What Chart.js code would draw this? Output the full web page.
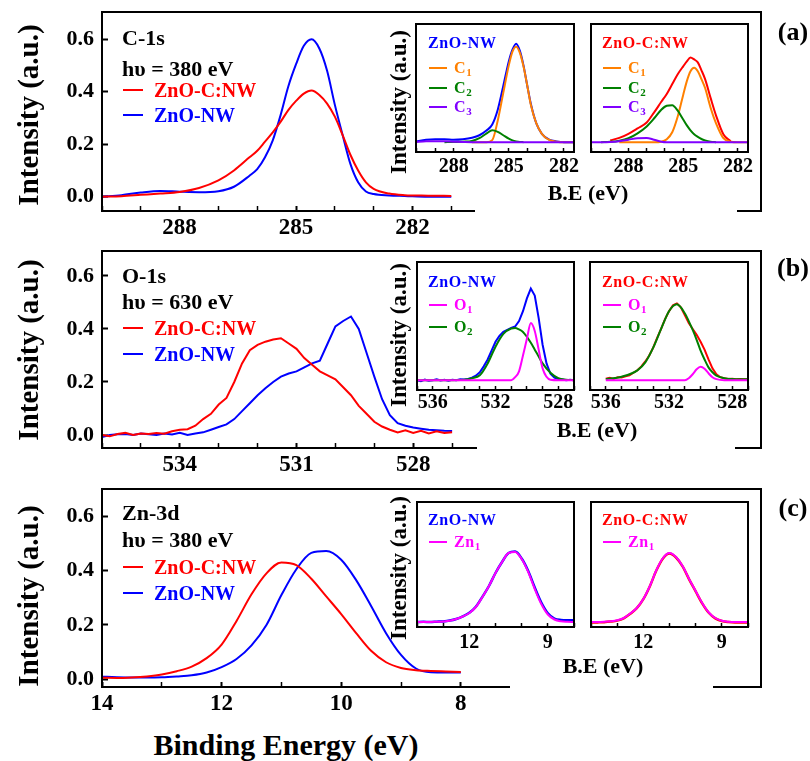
<!DOCTYPE html>
<html>
<head>
<meta charset="utf-8">
<title>XPS spectra</title>
<script src="https://cdn.jsdelivr.net/npm/chart.js@4.4.0/dist/chart.umd.min.js"></script>
<style>
  body { margin: 0; background: #fff; }
  #fig { position: relative; width: 810px; height: 761px; overflow: hidden;
         font-family: 'Liberation Serif', 'Times New Roman', serif; color: #000; }
  #fig canvas { position: absolute; }
  .t { position: absolute; white-space: nowrap; line-height: 1; font-weight: bold; }
  .c { transform: translate(-50%, -50%); }
  .l { transform: translateY(-50%); }
  .rot { transform: translate(-50%, -50%) rotate(-90deg); }
  .cover { position: absolute; background: #fff; }
  .key { position: absolute; height: 2px; }
  .ann { font-size: 22px; }
  .lg { font-size: 20px; }
  .ilg { font-size: 16px; letter-spacing: 0.6px; }
  .ilg sub { font-size: 11px; vertical-align: -3px; line-height: 0; }
</style>
</head>
<body>
<div id="fig">
  <canvas id="mainC"></canvas>
  <canvas id="mainO"></canvas>
  <canvas id="mainZn"></canvas>

  <div class="cover" style="left:475px;top:14px;width:262px;height:202px"></div>
  <div class="cover" style="left:477px;top:253px;width:258px;height:199px"></div>
  <div class="cover" style="left:510px;top:491px;width:203px;height:201px"></div>

  <canvas id="insC1"></canvas>
  <canvas id="insC2"></canvas>
  <canvas id="insO1"></canvas>
  <canvas id="insO2"></canvas>
  <canvas id="insZn1"></canvas>
  <canvas id="insZn2"></canvas>

  <!-- axis titles -->
  <div class="t rot" style="left:28px;top:115px;font-size:29px">Intensity (a.u.)</div>
  <div class="t rot" style="left:28px;top:350px;font-size:29px">Intensity (a.u.)</div>
  <div class="t rot" style="left:28px;top:596px;font-size:29px">Intensity (a.u.)</div>
  <div class="t c" style="left:286px;top:745px;font-size:30px">Binding Energy (eV)</div>

  <div class="t rot" style="left:398px;top:102px;font-size:23px">Intensity (a.u.)</div>
  <div class="t rot" style="left:398px;top:335px;font-size:23px">Intensity (a.u.)</div>
  <div class="t rot" style="left:398px;top:568px;font-size:23px">Intensity (a.u.)</div>
  <div class="t c" style="left:588px;top:193px;font-size:22px">B.E (eV)</div>
  <div class="t c" style="left:597px;top:430px;font-size:22px">B.E (eV)</div>
  <div class="t c" style="left:603px;top:666px;font-size:22px">B.E (eV)</div>

  <div class="t c" style="left:793px;top:32px;font-size:26px">(a)</div>
  <div class="t c" style="left:793px;top:268px;font-size:26px">(b)</div>
  <div class="t c" style="left:793px;top:508px;font-size:26px">(c)</div>

  <!-- panel (a) notes and legend -->
  <div class="t l ann" style="left:122px;top:38px">C-1s</div>
  <div class="t l ann" style="left:122px;top:69px">hυ = 380 eV</div>
  <div class="key" style="left:123px;top:89px;width:20px;background:#ff0000"></div>
  <div class="t l lg" style="left:154px;top:90px;color:#ff0000">ZnO-C:NW</div>
  <div class="key" style="left:123px;top:114px;width:20px;background:#0000ff"></div>
  <div class="t l lg" style="left:154px;top:115px;color:#0000ff">ZnO-NW</div>

  <!-- panel (b) -->
  <div class="t l ann" style="left:122px;top:276px">O-1s</div>
  <div class="t l ann" style="left:122px;top:302px">hυ = 630 eV</div>
  <div class="key" style="left:123px;top:327px;width:20px;background:#ff0000"></div>
  <div class="t l lg" style="left:154px;top:328px;color:#ff0000">ZnO-C:NW</div>
  <div class="key" style="left:123px;top:353px;width:20px;background:#0000ff"></div>
  <div class="t l lg" style="left:154px;top:354px;color:#0000ff">ZnO-NW</div>

  <!-- panel (c) -->
  <div class="t l ann" style="left:122px;top:513px">Zn-3d</div>
  <div class="t l ann" style="left:122px;top:540px">hυ = 380 eV</div>
  <div class="key" style="left:123px;top:566px;width:20px;background:#ff0000"></div>
  <div class="t l lg" style="left:154px;top:567px;color:#ff0000">ZnO-C:NW</div>
  <div class="key" style="left:123px;top:592px;width:20px;background:#0000ff"></div>
  <div class="t l lg" style="left:154px;top:593px;color:#0000ff">ZnO-NW</div>

  <!-- inset legends, C-1s -->
  <div class="t l ilg" style="left:428px;top:43px;color:#0000ff">ZnO-NW</div>
  <div class="key" style="left:429px;top:67px;width:18px;background:#ff8000"></div>
  <div class="t l ilg" style="left:454px;top:68px;color:#ff8000">C<sub>1</sub></div>
  <div class="key" style="left:429px;top:87px;width:18px;background:#008000"></div>
  <div class="t l ilg" style="left:454px;top:88px;color:#008000">C<sub>2</sub></div>
  <div class="key" style="left:429px;top:106px;width:18px;background:#8000ff"></div>
  <div class="t l ilg" style="left:454px;top:107px;color:#8000ff">C<sub>3</sub></div>

  <div class="t l ilg" style="left:602px;top:43px;color:#ff0000">ZnO-C:NW</div>
  <div class="key" style="left:603px;top:67px;width:18px;background:#ff8000"></div>
  <div class="t l ilg" style="left:628px;top:68px;color:#ff8000">C<sub>1</sub></div>
  <div class="key" style="left:603px;top:87px;width:18px;background:#008000"></div>
  <div class="t l ilg" style="left:628px;top:88px;color:#008000">C<sub>2</sub></div>
  <div class="key" style="left:603px;top:106px;width:18px;background:#8000ff"></div>
  <div class="t l ilg" style="left:628px;top:107px;color:#8000ff">C<sub>3</sub></div>

  <!-- inset legends, O-1s -->
  <div class="t l ilg" style="left:428px;top:282px;color:#0000ff">ZnO-NW</div>
  <div class="key" style="left:429px;top:304px;width:18px;background:#ff00ff"></div>
  <div class="t l ilg" style="left:454px;top:305px;color:#ff00ff">O<sub>1</sub></div>
  <div class="key" style="left:429px;top:326px;width:18px;background:#008000"></div>
  <div class="t l ilg" style="left:454px;top:327px;color:#008000">O<sub>2</sub></div>

  <div class="t l ilg" style="left:602px;top:282px;color:#ff0000">ZnO-C:NW</div>
  <div class="key" style="left:603px;top:304px;width:18px;background:#ff00ff"></div>
  <div class="t l ilg" style="left:628px;top:305px;color:#ff00ff">O<sub>1</sub></div>
  <div class="key" style="left:603px;top:326px;width:18px;background:#008000"></div>
  <div class="t l ilg" style="left:628px;top:327px;color:#008000">O<sub>2</sub></div>

  <!-- inset legends, Zn-3d -->
  <div class="t l ilg" style="left:428px;top:520px;color:#0000ff">ZnO-NW</div>
  <div class="key" style="left:429px;top:541px;width:18px;background:#ff00ff"></div>
  <div class="t l ilg" style="left:454px;top:542px;color:#ff00ff">Zn<sub>1</sub></div>

  <div class="t l ilg" style="left:602px;top:520px;color:#ff0000">ZnO-C:NW</div>
  <div class="key" style="left:603px;top:541px;width:18px;background:#ff00ff"></div>
  <div class="t l ilg" style="left:628px;top:542px;color:#ff00ff">Zn<sub>1</sub></div>
</div>

<script>
// ---- C-1s survey (eV, a.u.)
const eC1s = [290.0, 289.5, 289.0, 288.5, 288.0, 287.5, 287.0, 286.6, 286.2, 286.0, 285.8, 285.6, 285.4, 285.2, 285.0,
              284.8, 284.6, 284.4, 284.2, 284.0, 283.8, 283.6, 283.4, 283.2, 283.0, 282.6, 282.2, 281.6, 281.0];
const c1sNW  = [0.0, 0.006, 0.016, 0.022, 0.019, 0.017, 0.021, 0.038, 0.08, 0.105, 0.15, 0.215, 0.31, 0.42, 0.505,
                0.575, 0.6, 0.565, 0.48, 0.35, 0.235, 0.125, 0.055, 0.02, 0.01, 0.005, 0.003, 0.0, 0.0];
const c1sCNW = [0.0, 0.002, 0.007, 0.012, 0.018, 0.033, 0.062, 0.1, 0.15, 0.175, 0.21, 0.245, 0.285, 0.33, 0.365,
                0.393, 0.405, 0.388, 0.355, 0.305, 0.235, 0.16, 0.1, 0.055, 0.03, 0.012, 0.006, 0.004, 0.003];

// C-1s peak fits
const eCfit = [290.1, 289.5, 289.0, 288.5, 288.0, 287.5, 287.0, 286.6, 286.2, 285.9, 285.6, 285.3, 285.0,
               284.8, 284.6, 284.4, 284.2, 284.0, 283.8, 283.5, 283.2, 282.8, 282.4, 282.0, 281.5];
const fitNW_data = [0.005, 0.025, 0.03, 0.03, 0.025, 0.03, 0.045, 0.07, 0.12, 0.18, 0.33, 0.57, 0.82,
                    0.94, 1.0, 0.93, 0.78, 0.58, 0.39, 0.19, 0.085, 0.025, 0.008, 0.0, 0.0];
const fitNW_C1 = [null, null, null, null, null, null, 0, 0, 0, 0.02, 0.22, 0.5, 0.78,
                  0.92, 0.97, 0.91, 0.77, 0.58, 0.38, 0.19, 0.085, 0.022, 0.005, 0.0, 0.0];
const fitNW_C2 = [null, null, null, 0, 0.002, 0.005, 0.012, 0.04, 0.09, 0.12, 0.105, 0.07, 0.035,
                  0.018, 0.008, 0.002, 0.0, null, null, null, null, null, null, null, null];
const fitNW_C3 = [0.0, 0.008, 0.01, 0.008, 0.005, 0.002, 0.0, 0, 0, 0, 0, 0, 0,
                  0, 0, 0, 0, 0, 0, 0, 0, 0, 0, 0, 0];
const fitCNW_data = [null, null, 0.018, 0.043, 0.085, 0.14, 0.2, 0.3, 0.41, 0.49, 0.59, 0.69, 0.77,
                     0.82, 0.86, 0.84, 0.81, 0.73, 0.64, 0.45, 0.27, 0.08, 0.008, null, null];
const fitCNW_C1 = [null, null, null, 0, 0, 0, 0, 0, 0.005, 0.03, 0.1, 0.26, 0.48,
                   0.62, 0.72, 0.755, 0.72, 0.64, 0.55, 0.35, 0.19, 0.04, 0.005, 0.0, 0.0];
const fitCNW_C2 = [null, 0.0, 0.003, 0.015, 0.04, 0.09, 0.16, 0.24, 0.33, 0.37, 0.375, 0.32, 0.23,
                   0.17, 0.12, 0.08, 0.054, 0.032, 0.018, 0.005, 0.0, null, null, null, null];
const fitCNW_C3 = [0, 0, 0.002, 0.01, 0.025, 0.04, 0.042, 0.025, 0.005, 0, 0, 0, 0,
                   0, 0, 0, 0, 0, 0, 0, 0, 0, 0, 0, 0];

// ---- O-1s survey
const eO1s = [536.0, 535.8, 535.6, 535.4, 535.2, 535.0, 534.8, 534.6, 534.4, 534.2, 534.0, 533.8, 533.6, 533.4, 533.2,
              533.0, 532.8, 532.6, 532.4, 532.2, 532.0, 531.8, 531.6, 531.4, 531.2, 531.0, 530.8, 530.6, 530.4, 530.2,
              530.0, 529.8, 529.6, 529.4, 529.2, 529.0, 528.8, 528.6, 528.4, 528.2, 528.0, 527.8, 527.6, 527.4, 527.2, 527.0];
const o1sCNW = [0.0, -0.005, 0.004, 0.008, 0.0, 0.006, 0.004, 0.008, 0.005, 0.014, 0.02, 0.022, 0.035, 0.06, 0.08,
                0.115, 0.14, 0.2, 0.27, 0.32, 0.34, 0.352, 0.36, 0.365, 0.345, 0.325, 0.29, 0.265, 0.24, 0.225,
                0.21, 0.18, 0.15, 0.11, 0.08, 0.05, 0.032, 0.02, 0.01, 0.018, 0.008, 0.016, 0.006, 0.014, 0.008, 0.01];
const o1sNW  = [-0.008, 0.0, 0.003, 0.004, 0.0, 0.006, 0.003, 0.0, 0.006, 0.002, 0.008, 0.0, 0.006, 0.01, 0.02,
                0.03, 0.04, 0.06, 0.09, 0.12, 0.15, 0.176, 0.2, 0.22, 0.232, 0.24, 0.255, 0.27, 0.28, 0.345,
                0.41, 0.43, 0.447, 0.40, 0.31, 0.22, 0.135, 0.075, 0.045, 0.035, 0.028, 0.024, 0.02, 0.018, 0.016, 0.015];

// O-1s peak fits
const eOdata = [537.0, 536.75, 536.5, 536.25, 536.0, 535.75, 535.5, 535.25, 535.0, 534.75, 534.5, 534.25, 534.0, 533.75,
                533.5, 533.25, 533.0, 532.75, 532.5, 532.25, 532.0, 531.75, 531.5, 531.25, 531.0, 530.75, 530.5, 530.25,
                530.0, 529.75, 529.5, 529.25, 529.0, 528.75, 528.5, 528.25, 528.0, 527.75, 527.5, 527.25, 527.0];
const fitO_NW_data = [0.0, -0.01, 0.005, -0.005, 0.0, 0.008, -0.004, 0.004, -0.006, 0.005, 0.0, 0.01, 0.006, 0.012,
                      0.025, 0.045, 0.08, 0.14, 0.21, 0.3, 0.39, 0.45, 0.49, 0.51, 0.53, 0.545, 0.6, 0.7,
                      0.83, 0.93, 0.86, 0.63, 0.36, 0.17, 0.065, 0.025, 0.012, 0.006, 0.0, 0.004, 0.0];
const fitO_CNW_data = [null, null, null, null, 0.015, 0.025, 0.012, 0.03, 0.028, 0.04, 0.05, 0.075, 0.1, 0.14,
                       0.19, 0.25, 0.33, 0.43, 0.52, 0.62, 0.7, 0.76, 0.78, 0.74, 0.66, 0.58, 0.52, 0.46,
                       0.39, 0.31, 0.21, 0.12, 0.06, 0.03, 0.02, 0.012, 0.015, 0.01, 0.012, 0.008, 0.01];
const eOfit = [537, 536, 535, 534, 533.5, 533, 532.5, 532, 531.5, 531, 530.75, 530.5, 530.25, 530,
               529.75, 529.5, 529.25, 529, 528.5, 528, 527.5, 527];
const fitO_NW_O1 = [0, 0, 0, 0, 0, 0, 0, 0, 0, 0.0, 0.03, 0.09, 0.25, 0.42, 0.58, 0.5, 0.31, 0.12, 0.005, 0, 0, 0];
const fitO_NW_O2 = [0, 0, 0.0, 0.005, 0.02, 0.05, 0.17, 0.34, 0.47, 0.525, 0.53, 0.515, 0.49, 0.44,
                    0.38, 0.31, 0.24, 0.17, 0.075, 0.02, 0.005, 0];
const fitO_CNW_O1 = [null, 0, 0, 0, 0, 0, 0, 0, 0, 0.0, 0.02, 0.06, 0.11, 0.135, 0.115, 0.07, 0.03, 0.01, 0, 0, 0, 0];
const fitO_CNW_O2 = [null, 0.01, 0.035, 0.1, 0.18, 0.33, 0.52, 0.7, 0.77, 0.68, 0.6, 0.51, 0.41, 0.3,
                     0.21, 0.13, 0.08, 0.045, 0.02, 0.012, 0.01, 0.01];

// ---- Zn-3d survey and fits
const eZn = [14.0, 13.75, 13.5, 13.25, 13.0, 12.75, 12.5, 12.25, 12.0, 11.75, 11.5, 11.25, 11.0,
             10.75, 10.5, 10.25, 10.0, 9.75, 9.5, 9.25, 9.0, 8.75, 8.5, 8.25, 8.0];
const znCNW = [0.006, 0.005, 0.007, 0.011, 0.018, 0.03, 0.047, 0.078, 0.128, 0.215, 0.313, 0.39, 0.43,
               0.42, 0.37, 0.305, 0.24, 0.17, 0.105, 0.063, 0.042, 0.034, 0.031, 0.029, 0.027];
const znNW  = [0.01, 0.008, 0.007, 0.007, 0.008, 0.011, 0.015, 0.025, 0.045, 0.075, 0.125, 0.2, 0.31,
               0.405, 0.465, 0.472, 0.44, 0.365, 0.27, 0.17, 0.09, 0.04, 0.026, 0.025, 0.025];
const fitZn_NW_data = [0.0, 0.002, 0.0, 0.003, 0.006, 0.014, 0.03, 0.056, 0.092, 0.152, 0.252, 0.36, 0.49,
                       0.6, 0.69, 0.705, 0.635, 0.51, 0.345, 0.195, 0.088, 0.035, 0.02, 0.017, 0.017];
const fitZn_NW_Zn1 = [0, 0, 0, 0.002, 0.005, 0.012, 0.03, 0.055, 0.09, 0.15, 0.25, 0.36, 0.49,
                      0.6, 0.69, 0.7, 0.63, 0.5, 0.33, 0.18, 0.075, 0.025, 0.007, 0.002, 0];
const fitZn_CNW_data = [-0.005, -0.004, -0.002, 0.004, 0.014, 0.037, 0.082, 0.138, 0.228, 0.358, 0.517, 0.636, 0.685,
                        0.645, 0.556, 0.427, 0.306, 0.186, 0.092, 0.036, 0.01, 0.0, -0.004, -0.004, -0.004];
const fitZn_CNW_Zn1 = [0.0, 0.0, 0.002, 0.007, 0.017, 0.04, 0.085, 0.14, 0.23, 0.36, 0.52, 0.64, 0.69,
                       0.65, 0.56, 0.43, 0.31, 0.19, 0.095, 0.04, 0.013, 0.003, 0.0, 0.0, 0.0];

const BLUE = '#0000ff', RED = '#ff0000', ORANGE = '#ff8000', GREEN = '#008000', VIOLET = '#8000ff', MAGENTA = '#ff00ff';
const W = 810;

Chart.defaults.font.family = "'Liberation Serif', 'Times New Roman', serif";
Chart.defaults.font.weight = 'bold';
Chart.defaults.color = '#000';

// black box around every plot area
Chart.register({
  id: 'frame',
  afterDraw(chart, args, opts) {
    const { ctx, chartArea: a } = chart;
    ctx.save();
    ctx.strokeStyle = '#000';
    ctx.lineWidth = opts.width || 2;
    ctx.strokeRect(a.left, a.top, a.right - a.left, a.bottom - a.top);
    ctx.restore();
  }
});

function toDataset(s) {
  return {
    data: s.x.map((x, i) => ({ x: x, y: s.y[i] })),
    borderColor: s.color,
    borderWidth: s.width || 2,
    pointRadius: 0,
    fill: false,
    spanGaps: false,
    tension: s.smooth ? 0.4 : 0,
    cubicInterpolationMode: s.smooth ? 'monotone' : 'default'
  };
}

const onTick = (lo, hi) => ctx =>
  (ctx.tick && ctx.tick.value >= lo - 1e-6 && ctx.tick.value <= hi + 1e-6) ? '#000' : 'rgba(0,0,0,0)';

function drawMain(id, box, xRange, yRange, tickSpan, labels, series) {
  const cv = document.getElementById(id);
  const padTop = 30, axisH = 36;
  cv.width = W;
  cv.height = box.b - box.t + padTop + axisH;
  cv.style.left = '0px';
  cv.style.top = (box.t - padTop) + 'px';
  new Chart(cv, {
    type: 'line',
    data: { datasets: series.map(toDataset) },
    options: {
      responsive: false, animation: false, devicePixelRatio: 1, events: [],
      layout: { padding: { left: 0, right: W - box.r, top: padTop, bottom: 0 } },
      plugins: { legend: { display: false }, tooltip: { enabled: false }, frame: { width: 2 } },
      scales: {
        x: {
          type: 'linear', reverse: true, min: xRange[0], max: xRange[1],
          afterFit: s => { s.height = axisH; },
          border: { display: false },
          grid: {
            drawOnChartArea: false, tickLength: -5,
            tickWidth: ctx => (ctx.tick && labels.includes(ctx.tick.value)) ? 2 : 1.5,
            tickColor: onTick(tickSpan[0], tickSpan[1])
          },
          ticks: {
            stepSize: 1, autoSkip: false, maxRotation: 0, includeBounds: false, padding: 8,
            color: '#000', font: { size: 23, weight: 'bold' },
            callback: v => labels.includes(v) ? String(v) : ''
          }
        },
        y: {
          min: yRange[0], max: yRange[1],
          afterFit: s => { s.width = box.l; },
          border: { display: false },
          grid: { drawOnChartArea: false, tickLength: -6, tickWidth: 2, tickColor: '#000' },
          ticks: {
            stepSize: 0.2, includeBounds: false, padding: 14,
            color: '#000', font: { size: 22, weight: 'bold' },
            callback: v => Math.abs(v) < 1e-9 ? '0.0' : v.toFixed(1)
          }
        }
      }
    }
  });
}

function drawInset(id, box, xRange, yRange, labels, labelPad, series) {
  const cv = document.getElementById(id);
  const side = 22, top = 4, axisH = 30;
  cv.width = box.r - box.l + 2 * side;
  cv.height = box.b - box.t + top + axisH;
  cv.style.left = (box.l - side) + 'px';
  cv.style.top = (box.t - top) + 'px';
  new Chart(cv, {
    type: 'line',
    data: { datasets: series.map(toDataset) },
    options: {
      responsive: false, animation: false, devicePixelRatio: 1, events: [],
      layout: { padding: { left: side, right: side, top: top, bottom: 0 } },
      plugins: { legend: { display: false }, tooltip: { enabled: false }, frame: { width: 2 } },
      scales: {
        x: {
          type: 'linear', reverse: true, min: xRange[0], max: xRange[1],
          afterFit: s => { s.height = axisH; },
          border: { display: false },
          grid: {
            drawOnChartArea: false, tickLength: -4, tickWidth: 1.5,
            tickColor: onTick(Math.ceil(xRange[0]), Math.floor(xRange[1]))
          },
          ticks: {
            stepSize: 1, autoSkip: false, maxRotation: 0, includeBounds: false, padding: labelPad,
            color: '#000', font: { size: 20, weight: 'bold' },
            callback: v => labels.includes(v) ? String(v) : ''
          }
        },
        y: { display: false, min: yRange[0], max: yRange[1] }
      }
    }
  });
}

// main panels
drawMain('mainC', { l: 102, r: 761, t: 12, b: 211 }, [273.02, 290], [-0.0545, 0.704], [281, 290], [288, 285, 282], [
  { x: eC1s, y: c1sCNW, color: RED, smooth: true },
  { x: eC1s, y: c1sNW, color: BLUE, smooth: true }
]);
drawMain('mainO', { l: 102, r: 761, t: 251, b: 448 }, [519.06, 536], [-0.049, 0.694], [527, 536], [534, 531, 528], [
  { x: eO1s, y: o1sCNW, color: RED },
  { x: eO1s, y: o1sNW, color: BLUE }
]);
drawMain('mainZn', { l: 102, r: 761, t: 489, b: 687 }, [2.98, 14], [-0.028, 0.70], [8, 14], [14, 12, 10, 8], [
  { x: eZn, y: znCNW, color: RED, smooth: true },
  { x: eZn, y: znNW, color: BLUE, smooth: true }
]);

// fitted insets (first dataset is drawn on top)
drawInset('insC1', { l: 416, r: 574, t: 24, b: 152 }, [281.45, 290.05], [-0.1, 1.2], [288, 285, 282], 7, [
  { x: eCfit, y: fitNW_C3, color: VIOLET, smooth: true },
  { x: eCfit, y: fitNW_C2, color: GREEN, smooth: true },
  { x: eCfit, y: fitNW_C1, color: ORANGE, smooth: true },
  { x: eCfit, y: fitNW_data, color: BLUE, smooth: true }
]);
drawInset('insC2', { l: 591, r: 748, t: 24, b: 152 }, [281.45, 290.05], [-0.1, 1.2], [288, 285, 282], 7, [
  { x: eCfit, y: fitCNW_C3, color: VIOLET, smooth: true },
  { x: eCfit, y: fitCNW_C2, color: GREEN, smooth: true },
  { x: eCfit, y: fitCNW_C1, color: ORANGE, smooth: true },
  { x: eCfit, y: fitCNW_data, color: RED, smooth: true }
]);
drawInset('insO1', { l: 417, r: 574, t: 262, b: 390 }, [527, 537], [-0.1, 1.2], [536, 532, 528], 5, [
  { x: eOfit, y: fitO_NW_O1, color: MAGENTA, smooth: true },
  { x: eOfit, y: fitO_NW_O2, color: GREEN, smooth: true },
  { x: eOdata, y: fitO_NW_data, color: BLUE }
]);
drawInset('insO2', { l: 590, r: 748, t: 262, b: 390 }, [527, 537], [-0.1, 1.2], [536, 532, 528], 5, [
  { x: eOfit, y: fitO_CNW_O1, color: MAGENTA, smooth: true },
  { x: eOfit, y: fitO_CNW_O2, color: GREEN, smooth: true },
  { x: eOdata, y: fitO_CNW_data, color: RED }
]);
drawInset('insZn1', { l: 417, r: 574, t: 502, b: 627 }, [8, 14], [-0.05, 1.2], [12, 9], 8, [
  { x: eZn, y: fitZn_NW_Zn1, color: MAGENTA, smooth: true },
  { x: eZn, y: fitZn_NW_data, color: BLUE, smooth: true, width: 2.5 }
]);
drawInset('insZn2', { l: 591, r: 748, t: 502, b: 627 }, [8, 14], [-0.05, 1.2], [12, 9], 8, [
  { x: eZn, y: fitZn_CNW_Zn1, color: MAGENTA, smooth: true },
  { x: eZn, y: fitZn_CNW_data, color: RED, smooth: true, width: 2.5 }
]);
</script>
</body>
</html>
